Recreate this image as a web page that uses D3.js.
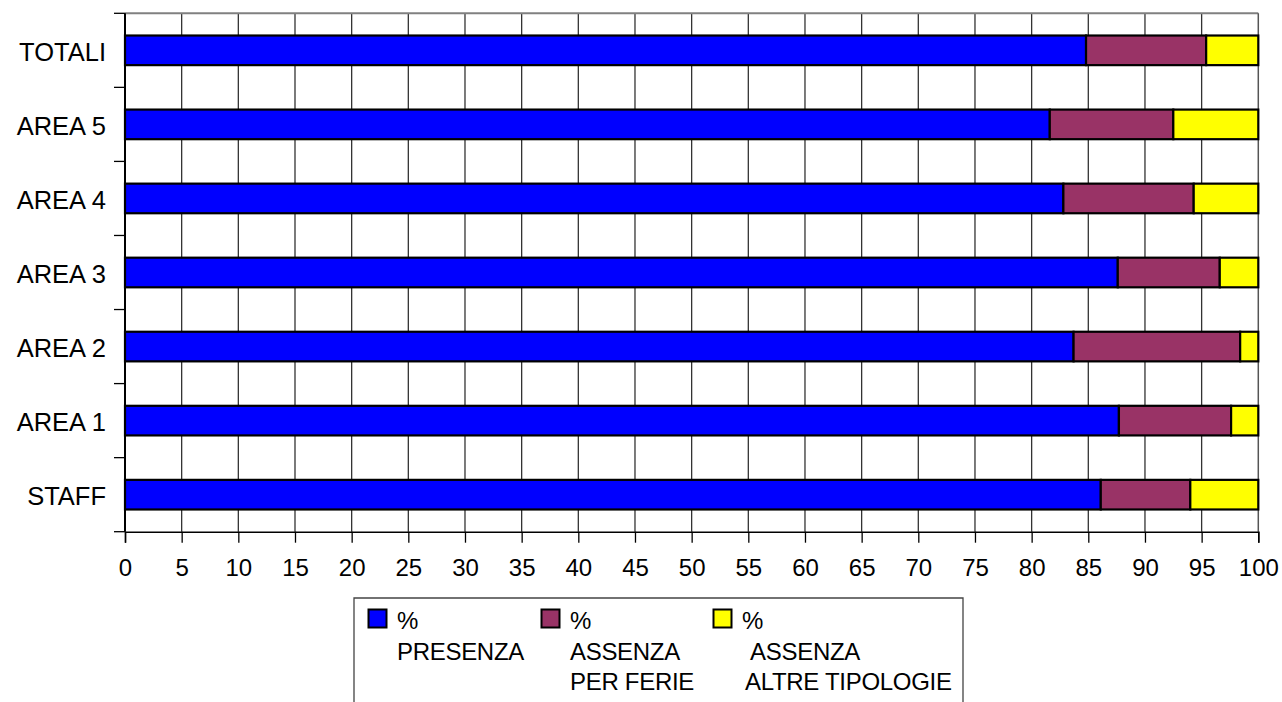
<!DOCTYPE html>
<html><head><meta charset="utf-8">
<script src="https://cdn.jsdelivr.net/npm/d3@7"></script>
<style>
html,body{margin:0;padding:0;background:#fff;}
svg{display:block;font-family:"Liberation Sans",Arial,sans-serif;}
</style></head>
<body>
<svg id="chart" width="1282" height="702"></svg>
<script>
const categories = ["TOTALI","AREA 5","AREA 4","AREA 3","AREA 2","AREA 1","STAFF"];
const presenza   = [84.8, 81.6, 82.8, 87.6, 83.7, 87.7, 86.1];
const ferie      = [10.6, 10.9, 11.5,  9.0, 14.7,  9.9,  7.9];
const altre      = [ 4.6,  7.5,  5.7,  3.4,  1.6,  2.4,  6.0];
const seriesNames = [["%","PRESENZA"],["%","ASSENZA","PER FERIE"],["%"," ASSENZA","ALTRE TIPOLOGIE"]];
const seriesColors = ["#0000FF","#993366","#FFFF00"];
const xTicks = d3.range(0, 101, 5);

(function(){
const svg = d3.select("#chart");
const pLeft = 125, pRight = 1258.3, pTop = 13.3, pBottom = 531.7;
const x = d3.scaleLinear().domain([0,100]).range([pLeft,pRight]);
const y = d3.scaleBand().domain(categories).range([pTop,pBottom]).paddingInner(0.6).paddingOuter(0.3);

// gridlines
svg.append("g").selectAll("line").data(xTicks.filter(d=>d>0 && d<100)).join("line")
  .attr("x1",d=>x(d)).attr("x2",d=>x(d)).attr("y1",pTop).attr("y2",pBottom)
  .attr("stroke","#333").attr("stroke-width",1.3);
// top & right border
svg.append("line").attr("x1",pLeft).attr("x2",pRight).attr("y1",pTop).attr("y2",pTop).attr("stroke","#808080").attr("stroke-width",2);
svg.append("line").attr("x1",pRight).attr("x2",pRight).attr("y1",pTop).attr("y2",pBottom).attr("stroke","#555").attr("stroke-width",1.5);

// stacked bars
const rows = categories.map((c,i)=>({c, vals:[presenza[i],ferie[i],altre[i]]}));
const gBars = svg.append("g");
rows.forEach(r=>{
  let acc = 0;
  r.vals.forEach((v,k)=>{
    gBars.append("rect").attr("x",x(acc)).attr("width",x(acc+v)-x(acc))
      .attr("y",y(r.c)).attr("height",y.bandwidth())
      .attr("fill",seriesColors[k]).attr("stroke","#000").attr("stroke-width",2.2);
    acc += v;
  });
});

// axes
const xAxis = d3.axisBottom(x).tickValues(xTicks).tickSize(11).tickPadding(16);
const gx = svg.append("g").attr("transform",`translate(0,${pBottom})`).call(xAxis);
gx.select(".domain").attr("stroke","#000").attr("stroke-width",1.5);
gx.selectAll(".tick line").attr("stroke","#000").attr("stroke-width",1.3);
gx.selectAll(".tick text").attr("font-size",24).attr("font-family","Liberation Sans, Arial, sans-serif").attr("fill","#000");

const bounds = d3.range(0, categories.length+1).map(k=>pTop + k*y.step());
svg.append("line").attr("x1",pLeft).attr("x2",pLeft).attr("y1",pTop).attr("y2",pBottom).attr("stroke","#000").attr("stroke-width",2);
svg.append("g").selectAll("line").data(bounds).join("line")
  .attr("x1",114).attr("x2",pLeft).attr("y1",d=>d).attr("y2",d=>d).attr("stroke","#000").attr("stroke-width",1.3);
svg.append("g").selectAll("text").data(categories).join("text")
  .attr("x",106).attr("y",d=>y(d)+y.bandwidth()/2 + 10.5)
  .attr("text-anchor","end").attr("font-size",25.5).attr("fill","#000").text(d=>d);

// legend
const lg = svg.append("g");
lg.append("path").attr("d","M354,710 V598 H963 V710").attr("fill","none").attr("stroke","#444").attr("stroke-width",1.3);
const itemX = [368.5, 541.5, 713.5];
const textX = [[397,397],[570,570],[742,745]];
seriesNames.forEach((lines,k)=>{
  lg.append("rect").attr("x",itemX[k]).attr("y",609.5).attr("width",18).attr("height",18)
    .attr("fill",seriesColors[k]).attr("stroke","#000").attr("stroke-width",2);
  lines.forEach((t,j)=>{
    lg.append("text").attr("x", j===0 ? textX[k][0] : textX[k][1]).attr("y",629+j*30.5)
      .attr("font-size",24).attr("fill","#000").attr("letter-spacing","-0.3").attr("xml:space","preserve").text(t);
  });
});
})();
</script>
</body></html>
